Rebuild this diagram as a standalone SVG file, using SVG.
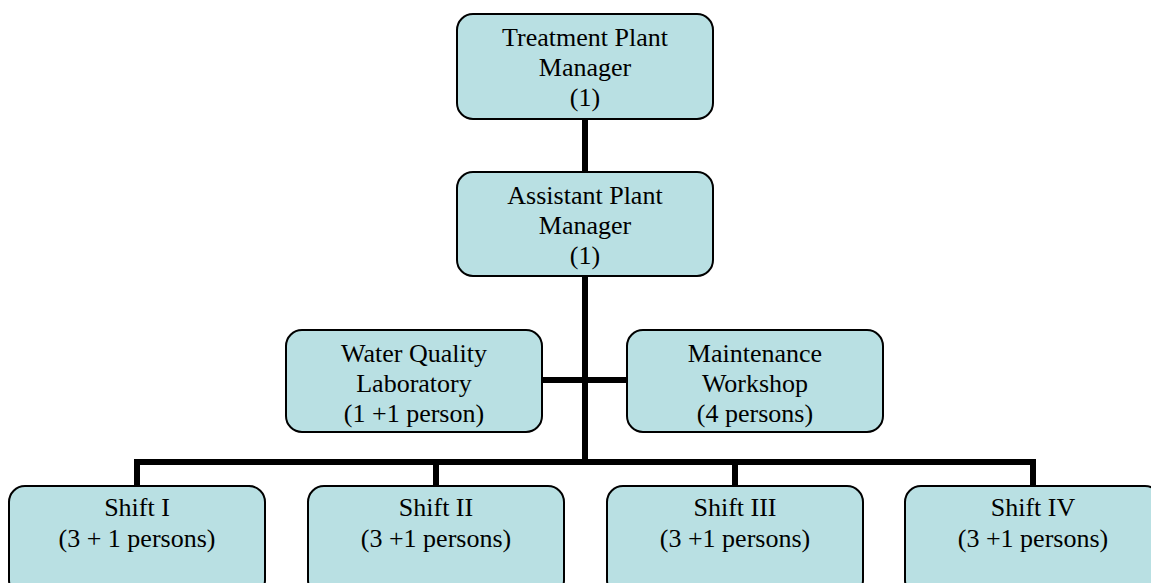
<svg xmlns="http://www.w3.org/2000/svg" width="1151" height="583" viewBox="0 0 1151 583">
  <style>
    .box { fill: #b9e0e3; stroke: #000; stroke-width: 2; }
    .lbl { font-family: 'Liberation Serif', 'DejaVu Serif', serif; font-size: 26px; fill: #000; text-anchor: middle; }
    .wire { stroke: #000; stroke-width: 6; fill: none; }
  </style>
  <rect width="1151" height="583" fill="#fff"/>

  <!-- connectors -->
  <g id="connectors">
    <line class="wire" x1="585" y1="119" x2="585" y2="172"/>
    <line class="wire" x1="585" y1="276" x2="585" y2="465"/>
    <line class="wire" x1="542" y1="380" x2="627" y2="380"/>
    <line class="wire" x1="134" y1="462" x2="1036" y2="462"/>
    <line class="wire" x1="137" y1="462" x2="137" y2="486"/>
    <line class="wire" x1="436" y1="462" x2="436" y2="486"/>
    <line class="wire" x1="735" y1="462" x2="735" y2="486"/>
    <line class="wire" x1="1033" y1="462" x2="1033" y2="486"/>
  </g>

  <g id="plant-manager">
    <rect class="box" x="457" y="14" width="256" height="105" rx="16"/>
    <text class="lbl" font-family="Liberation Serif, serif" x="585" y="46">Treatment Plant</text>
    <text class="lbl" font-family="Liberation Serif, serif" x="585" y="76">Manager</text>
    <text class="lbl" font-family="Liberation Serif, serif" x="585" y="106">(1)</text>
  </g>

  <g id="assistant-manager">
    <rect class="box" x="457" y="172" width="256" height="104" rx="16"/>
    <text class="lbl" x="585" y="204">Assistant Plant</text>
    <text class="lbl" x="585" y="234">Manager</text>
    <text class="lbl" x="585" y="264">(1)</text>
  </g>

  <g id="laboratory">
    <rect class="box" x="286" y="330" width="256" height="102" rx="16"/>
    <text class="lbl" x="414" y="362">Water Quality</text>
    <text class="lbl" x="414" y="392">Laboratory</text>
    <text class="lbl" x="414" y="422">(1 +1 person)</text>
  </g>

  <g id="workshop">
    <rect class="box" x="627" y="330" width="256" height="102" rx="16"/>
    <text class="lbl" x="755" y="362">Maintenance</text>
    <text class="lbl" x="755" y="392">Workshop</text>
    <text class="lbl" x="755" y="422">(4 persons)</text>
  </g>

  <g id="shift-1">
    <rect class="box" x="9" y="486" width="256" height="110" rx="16"/>
    <text class="lbl" x="137" y="516">Shift I</text>
    <text class="lbl" x="137" y="547">(3 + 1 persons)</text>
  </g>

  <g id="shift-2">
    <rect class="box" x="308" y="486" width="256" height="110" rx="16"/>
    <text class="lbl" x="436" y="516">Shift II</text>
    <text class="lbl" x="436" y="547">(3 +1 persons)</text>
  </g>

  <g id="shift-3">
    <rect class="box" x="607" y="486" width="256" height="110" rx="16"/>
    <text class="lbl" x="735" y="516">Shift III</text>
    <text class="lbl" x="735" y="547">(3 +1 persons)</text>
  </g>

  <g id="shift-4">
    <rect class="box" x="905" y="486" width="256" height="110" rx="16"/>
    <text class="lbl" x="1033" y="516">Shift IV</text>
    <text class="lbl" x="1033" y="547">(3 +1 persons)</text>
  </g>
</svg>
